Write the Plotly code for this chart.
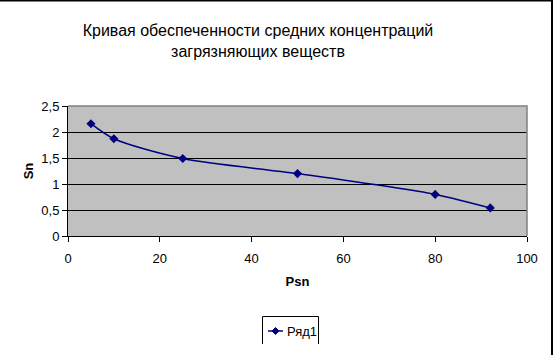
import plotly.graph_objects as go

psn = [5, 10, 25, 50, 80, 92]
sn = [2.16, 1.87, 1.49, 1.20, 0.80, 0.54]
series_name = "Ряд1"
title_text = "Кривая обеспеченности средних концентраций<br>загрязняющих веществ"
x_ticks = [0, 20, 40, 60, 80, 100]
y_ticks = [0, 0.5, 1, 1.5, 2, 2.5]
y_labels = ["0", "0,5", "1", "1,5", "2", "2,5"]

W, H = 554, 355
L, R, T, B = 68, 27, 106, 119
pw, ph = W - L - R, H - T - B

def px_x(p):
    return (p - L) / pw

def px_y(p):
    return (H - B - p) / ph

FONT = "Liberation Sans, Arial, sans-serif"
NAVY = "#000080"

fig = go.Figure()
fig.add_trace(go.Scatter(
    x=psn, y=sn, name=series_name, mode="lines+markers", showlegend=False,
    line=dict(color=NAVY, width=1.5, shape="spline", smoothing=0.8),
    marker=dict(symbol="diamond", size=7, color=NAVY),
))

# legend drawn manually (Excel-style short sample)
lx0, lx1, ly = 268, 283, 331
dm = 3.5
fig.add_annotation(x=px_x(285), y=px_y(ly), xref="paper", yref="paper",
                   text=series_name, showarrow=False, xanchor="left", yanchor="middle",
                   font=dict(family=FONT, size=13, color="black"))

fig.update_layout(
    width=W, height=H,
    margin=dict(l=L, r=R, t=T, b=B),
    paper_bgcolor="white",
    plot_bgcolor="#C0C0C0",
    font=dict(family=FONT, size=13, color="black"),
    title=dict(text=title_text, x=258 / W, xanchor="center", y=1 - 36 / H, yanchor="middle",
               font=dict(family=FONT, size=16, color="black")),
    xaxis=dict(range=[0, 100], tickvals=x_ticks, ticktext=[str(v) for v in x_ticks],
               showgrid=False, zeroline=False, showline=True, linecolor="black", linewidth=1,
               ticks="outside", ticklen=5, tickcolor="black", ticklabelstandoff=5,
               title=dict(text="<b>Psn</b>", standoff=12, font=dict(size=13)),
               tickfont=dict(size=13)),
    yaxis=dict(range=[0, 2.5], tickvals=y_ticks, ticktext=y_labels,
               showgrid=True, gridcolor="black", gridwidth=1, zeroline=False,
               showline=True, linecolor="black", linewidth=1,
               ticks="outside", ticklen=5, tickcolor="black",
               title=dict(text="<b>Sn</b>", standoff=4, font=dict(size=13)),
               tickfont=dict(size=13)),
    shapes=[
        dict(type="path", xref="paper", yref="paper",
             path="M 0 1 L 1 1 L 1 0", line=dict(color="#808080", width=1.5)),
        dict(type="path", xref="paper", yref="paper",
             path=f"M {px_x(0)} {px_y(0.5)} L {px_x(552)} {px_y(0.5)} L {px_x(552)} {px_y(H)}",
             line=dict(color="black", width=2)),
        dict(type="path", xref="paper", yref="paper",
             path=f"M {px_x(262.5)} {px_y(344)} L {px_x(262.5)} {px_y(316.5)} L {px_x(318.5)} {px_y(316.5)} L {px_x(318.5)} {px_y(344)}",
             line=dict(color="black", width=1)),
        dict(type="line", xref="paper", yref="paper",
             x0=px_x(lx0), x1=px_x(lx1), y0=px_y(ly), y1=px_y(ly),
             line=dict(color=NAVY, width=1.5)),
        dict(type="path", xref="paper", yref="paper",
             path=f"M {px_x(275.5 - dm)} {px_y(ly)} L {px_x(275.5)} {px_y(ly - dm)} L {px_x(275.5 + dm)} {px_y(ly)} L {px_x(275.5)} {px_y(ly + dm)} Z",
             fillcolor=NAVY, line=dict(color=NAVY, width=1)),
    ],
)

fig.write_html("out.html")
